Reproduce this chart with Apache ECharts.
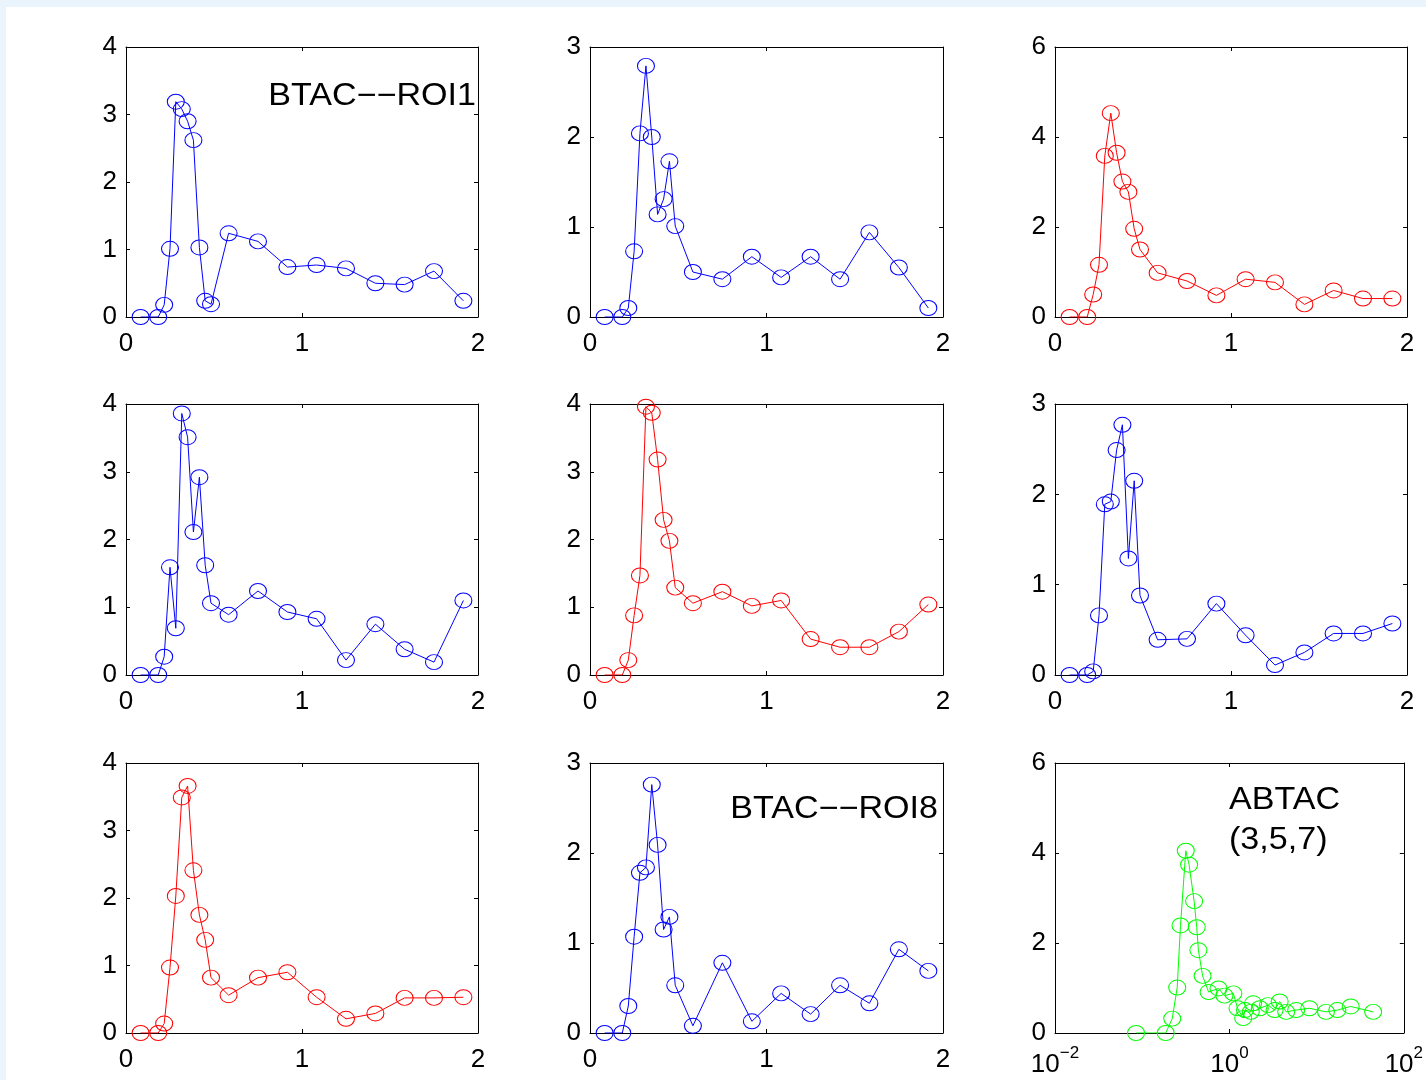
<!DOCTYPE html>
<html><head><meta charset="utf-8">
<script src="https://cdn.jsdelivr.net/npm/echarts@6/dist/echarts.min.js"></script>
<style>html,body{margin:0;padding:0;background:#fff}#c{width:1426px;height:1080px}</style>
</head><body><div id="c"></div>
<script>
// frame mid-times (minutes)
const frameTimes = [0.083,0.183,0.217,0.25,0.283,0.317,0.35,0.383,0.417,0.45,0.483,0.583,0.75,0.917,1.083,1.25,1.417,1.583,1.75,1.917];
const roi1 = [0,0,0.18,1.01,3.19,3.08,2.90,2.62,1.03,0.24,0.19,1.24,1.12,0.74,0.77,0.72,0.50,0.48,0.68,0.24];
const roi2 = [0,0,0.10,0.73,2.04,2.79,2.00,1.14,1.31,1.73,1.01,0.50,0.42,0.67,0.44,0.67,0.42,0.94,0.55,0.10];
const roi3 = [0,0,0.50,1.16,3.58,4.53,3.65,3.01,2.78,1.96,1.50,0.98,0.80,0.48,0.84,0.77,0.28,0.59,0.41,0.41];
const roi4 = [0,0,0.27,1.59,0.69,3.86,3.51,2.11,2.92,1.62,1.06,0.89,1.24,0.93,0.83,0.22,0.75,0.38,0.19,1.10];
const roi5 = [0,0,0.22,0.88,1.47,3.96,3.87,3.18,2.29,1.98,1.29,1.06,1.23,1.02,1.10,0.53,0.41,0.41,0.64,1.04];
const roi6 = [0,0,0.04,0.66,1.89,1.92,2.49,2.77,1.29,2.15,0.88,0.39,0.40,0.79,0.44,0.11,0.25,0.46,0.46,0.57];
const roi7 = [0,0,0.14,0.97,2.03,3.49,3.66,2.41,1.75,1.38,0.82,0.56,0.82,0.90,0.53,0.21,0.29,0.52,0.52,0.53];
const roi8 = [0,0,0.30,1.07,1.78,1.84,2.76,2.09,1.15,1.29,0.53,0.08,0.78,0.13,0.44,0.21,0.53,0.33,0.93,0.69];
const abtacTimes  = [0.085,0.186,0.221,0.252,0.275,0.316,0.345,0.394,0.422,0.441,0.493,0.577,0.750,0.877,1.11,1.24,1.44,1.51,1.76,1.87,2.23,2.77,3.30,3.77,4.48,5.83,8.26,12.8,17.3,24.6,44.5];
const abtacValues = [0,0,0.32,1.01,2.39,4.05,3.74,2.93,2.35,1.84,1.27,0.91,0.99,0.83,0.88,0.55,0.33,0.51,0.47,0.66,0.55,0.62,0.51,0.70,0.47,0.51,0.55,0.47,0.51,0.59,0.47];
const linearTicks = [0,1,2];
const logTicks = [0.01,1,100];

const BLUE='#0000ff', RED='#ff0000', GREEN='#00ff00';
const FONT = '"Liberation Sans", Arial, Helvetica, sans-serif';
const panels = [
  {y:roi1,color:BLUE,ymax:4,yint:1},
  {y:roi2,color:BLUE,ymax:3,yint:1},
  {y:roi3,color:RED,ymax:6,yint:2},
  {y:roi4,color:BLUE,ymax:4,yint:1},
  {y:roi5,color:RED,ymax:4,yint:1},
  {y:roi6,color:BLUE,ymax:3,yint:1},
  {y:roi7,color:RED,ymax:4,yint:1},
  {y:roi8,color:BLUE,ymax:3,yint:1},
  {x:abtacTimes,y:abtacValues,color:GREEN,ymax:6,yint:2,log:true}
];
const colLeft=[126,590,1055], colW=[352,353,352];
const rowTop=[47,404,763], rowH=[270,271,270];
const ELLIPSE = 'path://M0,1 A1,1 0 1,1 2,1 A1,1 0 1,1 0,1 Z';

const grid=[], xAxis=[], yAxis=[], series=[];
const lineBase = {show:true,onZero:false,lineStyle:{color:'#000',width:1}};
const tickBase = {show:true,inside:true,length:4,lineStyle:{color:'#000',width:1}};
panels.forEach((p,i)=>{
  const r=Math.floor(i/3), c=i%3;
  grid.push({left:colLeft[c],top:rowTop[r],width:colW[c],height:rowH[r],containLabel:false});
  const xi = xAxis.length, yi = yAxis.length;
  const xc = p.log ? {type:'log',logBase:10,min:0.01,max:100} : {type:'value',min:0,max:2,interval:1};
  const sup = e => '{b|10}{s|' + (e<0?'\u2212'+(-e):e) + '}';
  xAxis.push(Object.assign({gridIndex:i,position:'bottom',axisLine:lineBase,
    axisTick:Object.assign({},tickBase, p.log?{customValues:logTicks}:{}),
    splitLine:{show:false},
    axisLabel: p.log ? {show:true,customValues:logTicks,margin:12,color:'#000',fontFamily:FONT,
        formatter:v=>sup(Math.round(Math.log10(v))),
        rich:{b:{fontSize:26,fontFamily:FONT,color:'#000',verticalAlign:'bottom'},s:{fontSize:17,fontFamily:FONT,color:'#000',verticalAlign:'top',padding:[0,0,16,0]}}}
      : {show:true,margin:14,color:'#000',fontSize:26,fontFamily:FONT,customValues:linearTicks}},xc));
  xAxis.push(Object.assign({gridIndex:i,position:'top',axisLine:lineBase,
    axisTick:Object.assign({},tickBase, p.log?{customValues:logTicks}:{}),
    splitLine:{show:false},axisLabel:{show:false}},xc));
  const yc = {type:'value',min:0,max:p.ymax,interval:p.yint};
  yAxis.push(Object.assign({gridIndex:i,position:'left',axisLine:lineBase,axisTick:tickBase,splitLine:{show:false},
    axisLabel:{show:true,margin:9,color:'#000',fontSize:26,fontFamily:FONT}},yc));
  yAxis.push(Object.assign({gridIndex:i,position:'right',axisLine:lineBase,axisTick:tickBase,splitLine:{show:false},
    axisLabel:{show:false}},yc));
  const xs = p.x || frameTimes;
  series.push({type:'line',xAxisIndex:xi,yAxisIndex:yi,data:xs.map((t,k)=>[t,p.y[k]]),
    symbol:ELLIPSE,symbolSize:[17,15],symbolKeepAspect:false,showAllSymbol:true,
    lineStyle:{color:p.color,width:1},
    itemStyle:{color:'transparent',borderColor:p.color,borderWidth:1},
    emphasis:{disabled:true},silent:true});
});

const txt = (text,x,y,align)=>({type:'text',z:100,x:x,y:y,scaleX:1.1,scaleY:1,
  style:{text:text,x:0,y:0,font:'31px '+FONT,fill:'#000',textAlign:align,textVerticalAlign:'middle'}});
const option = {
  animation:false,
  backgroundColor:'#fff',
  grid, xAxis, yAxis, series,
  graphic:[
    {type:'rect',z:-1,shape:{x:0,y:0,width:6,height:1080},style:{fill:'#eaf4fc'}},
    {type:'rect',z:-1,shape:{x:0,y:0,width:1426,height:7},style:{fill:'#eaf4fc'}},
    txt('BTAC\u2212\u2212ROI1',476,96,'right'),
    txt('BTAC\u2212\u2212ROI8',938,809,'right'),
    txt('ABTAC',1229,800,'left'),
    txt('(3,5,7)',1229,840,'left')
  ]
};
const chart = echarts.init(document.getElementById('c'),null,{renderer:'canvas'});
chart.setOption(option);
</script></body></html>
